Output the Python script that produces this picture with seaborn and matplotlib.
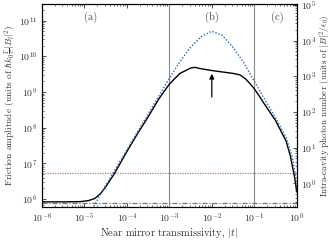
import numpy as np
import pandas as pd
import matplotlib
matplotlib.use("Agg")
import matplotlib.pyplot as plt
import matplotlib.ticker as mticker
import seaborn as sns

# friction amplitude (black) as log10 values
fric_logt = [-6.0, -5.5, -5.1, -4.9, -4.75, -4.6, -4.5, -4.29, -4.0, -3.75, -3.5, -3.25,
             -3.0, -2.75, -2.5, -2.4, -2.25, -2.0, -1.75, -1.5, -1.34, -1.2, -1.1, -1.0,
             -0.87, -0.75, -0.5, -0.25, -0.15, -0.05, 0.0]
fric_logF = [5.925, 5.925, 5.93, 5.96, 6.02, 6.18, 6.34, 6.72, 7.33, 7.83, 8.30, 8.80,
             9.22, 9.52, 9.67, 9.69, 9.65, 9.60, 9.56, 9.52, 9.48, 9.36, 9.23, 9.09,
             8.86, 8.64, 8.20, 7.62, 7.20, 6.60, 6.20]

# intra-cavity photon number (blue dotted), log10 in right-axis units
phot_logt = [-4.85, -4.6, -4.5, -4.25, -4.0, -3.75, -3.5, -3.25, -3.0, -2.75, -2.5, -2.25,
             -2.0, -1.75, -1.5, -1.25, -1.0, -0.75, -0.5, -0.25, -0.1, 0.0]
phot_logN = [-0.80, -0.26, -0.06, 0.44, 0.94, 1.44, 1.94, 2.44, 2.94, 3.41, 3.81, 4.11,
             4.26, 4.14, 3.81, 3.38, 2.86, 2.34, 1.84, 1.28, 0.71, 0.01]

red_level = 5.4e6      # dotted horizontal
green_level = 7.8e5    # dash-dot horizontal
region_edges = [1e-3, 1e-1]
region_labels = ["(a)", "(b)", "(c)"]
region_label_x = [1.4e-5, 1e-2, 3.4e-1]
arrow_x = 1e-2
arrow_from, arrow_to = 10**8.86, 10**9.51

sns.set_theme(style="ticks")
plt.rcParams["font.family"] = ["cmr10", "DejaVu Serif"]
plt.rcParams["mathtext.fontset"] = "cm"
plt.rcParams["axes.formatter.use_mathtext"] = True
plt.rcParams["axes.unicode_minus"] = False

fric = pd.DataFrame({"t": 10.0 ** np.array(fric_logt), "F": 10.0 ** np.array(fric_logF)})
phot = pd.DataFrame({"t": 10.0 ** np.array(phot_logt), "N": 10.0 ** np.array(phot_logN)})

fig = plt.figure(figsize=(3.32, 2.41), dpi=100)
ax = fig.add_axes([0.126, 0.141, 0.768, 0.842])
ax2 = ax.twinx()

for xv in region_edges:
    ax.axvline(xv, color="#8c8c8c", lw=0.8, zorder=1)
ax.axhline(red_level, color="#d46a6a", lw=0.9, ls=(0, (1, 1)), zorder=2)
ax.axhline(green_level, color="#3f8f78", lw=0.9, ls=(0, (4, 1.5, 1, 1.5)), zorder=2)

sns.lineplot(data=phot, x="t", y="N", ax=ax2, color="#2f62b8", lw=1.0,
             linestyle=(0, (1, 1.3)), sort=False)
sns.lineplot(data=fric, x="t", y="F", ax=ax, color="black", lw=1.0, sort=False, zorder=4)

ax.set_xscale("log")
ax.set_yscale("log")
ax2.set_yscale("log")
ax.set_xlim(1e-6, 1)
ax.set_ylim(10**5.78, 10**11.46)
ax2.set_ylim(10**-0.66, 10**5.02)

ax.annotate("", xy=(arrow_x, arrow_to), xytext=(arrow_x, arrow_from),
            arrowprops=dict(arrowstyle="-|>", color="black", lw=0.9,
                            mutation_scale=7, shrinkA=0, shrinkB=0))
for lab, xv in zip(region_labels, region_label_x):
    ax.text(xv, 0.935, lab, transform=ax.get_xaxis_transform(), ha="center",
            va="center", fontsize=7.5, color="#444444")

ax.set_xticks([10.0**k for k in range(-6, 1)])
ax.set_yticks([10.0**k for k in range(6, 12)])
ax2.set_yticks([10.0**k for k in range(0, 6)])
minor = lambda: mticker.LogLocator(base=10, subs=np.arange(2, 10), numticks=100)
ax.xaxis.set_minor_locator(minor())
ax.yaxis.set_minor_locator(minor())
ax2.yaxis.set_minor_locator(minor())
ax.xaxis.set_minor_formatter(mticker.NullFormatter())
ax.yaxis.set_minor_formatter(mticker.NullFormatter())
ax2.yaxis.set_minor_formatter(mticker.NullFormatter())

ax.set_xlabel(r"Near mirror transmissivity, $|t|$", fontsize=7.5, color="#333333", labelpad=1)
ax.set_ylabel(r"Friction amplitude (units of $\hbar k_0\frac{\Gamma}{c}|B_l|^2$)",
              fontsize=6.8, color="#333333", labelpad=1)
ax2.set_ylabel(r"Intra-cavity photon number (units of $|B|^2/\epsilon_0$)",
               fontsize=6.5, color="#333333", labelpad=1)
ax2.set_xlabel("")
for a in (ax, ax2):
    a.tick_params(which="both", direction="in", labelsize=7, colors="#333333",
                  pad=3)
    a.tick_params(which="major", length=3, width=0.6)
    a.tick_params(which="minor", length=1.5, width=0.5)
    for s in a.spines.values():
        s.set_linewidth(0.8)
        s.set_color("black")
ax.tick_params(which="both", top=True, right=False)
ax2.tick_params(which="both", left=False, right=True)

fig.savefig("out.png", dpi=100)
